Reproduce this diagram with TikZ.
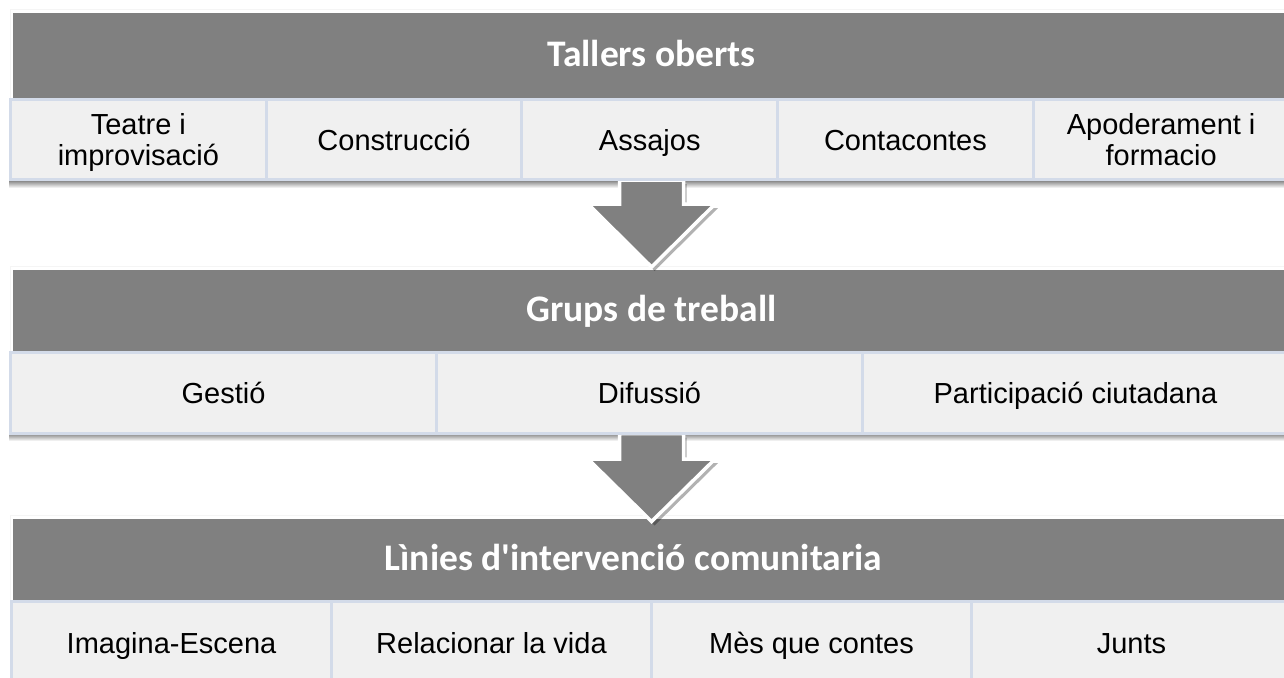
\documentclass[tikz,border=0pt]{standalone}
\usepackage{fontspec}
\setmainfont{Liberation Sans}
\newfontfamily\hdrfont{Carlito}
\usetikzlibrary{calc,shadows}
\definecolor{hdrgray}{HTML}{808080}
\definecolor{cellfill}{HTML}{F0F0F0}
\definecolor{cellline}{HTML}{D3DBE9}
\tikzset{
 hdr/.style={rectangle, fill=hdrgray, anchor=north west, inner sep=0pt, text=white,
   minimum width=1277.3pt, text height=24pt, text depth=3pt,
   font=\hdrfont\bfseries\fontsize{37.5}{44}\selectfont},
 hdrframe/.style={draw=black!4, line width=1pt},
 cell/.style={rectangle, fill=cellfill, draw=cellline, line width=3pt, anchor=north west,
   inner sep=0pt, align=center, text height=21pt, text depth=0pt,
   font=\fontsize{29}{31}\selectfont},
 celltwo/.style={cell, text height=52pt, text depth=1pt},
 bigarrow/.style={fill=hdrgray, draw=white, line width=3.5pt, line join=miter,
   drop shadow={shadow xshift=3pt, shadow yshift=-4pt, opacity=.3, fill=black}},
 rowshadow/.style={top color=black!45, bottom color=white, draw=none}
}
\begin{document}
\begin{tikzpicture}[x=1pt,y=-1pt]
\useasboundingbox (0,0) rectangle (1284,677);
\clip (0,0) rectangle (1284,677);
\fill[white] (0,0) rectangle (1284,677);

% faint frames above headers
\draw[hdrframe] (10,10) rectangle (1295,180);
\draw[hdrframe] (10,266) rectangle (1295,434);
\draw[hdrframe] (10,515) rectangle (1295,690);

% headers
\node[hdr, minimum height=85pt] (h1) at (12.7,13) {Tallers oberts};
\node[hdr, minimum height=81pt] (h2) at (12.7,270) {Grups de treball};
\node[hdr, minimum height=81pt] (h3) at (12.7,519) {\hspace*{-36pt}Lìnies d'intervenció comunitaria};

% row shadows
\shade[rowshadow] (9,181) rectangle (1290,188);
\shade[rowshadow] (9,434) rectangle (1290,441);

% row 1 cells (anchors for arrow)
\node[celltwo, minimum width=255.7pt, minimum height=80pt] (c11) at (9,98) {Teatre i\\improvisació};
\node[cell, minimum width=255.7pt, minimum height=80pt] (c12) at (264.7,98) {Construcció};
\node[cell, minimum width=255.7pt, minimum height=80pt] (c13) at (520.4,98) {Assajos};
\node[cell, minimum width=255.7pt, minimum height=80pt] (c14) at (776.1,98) {Contacontes};
\node[celltwo, minimum width=255.7pt, minimum height=80pt] (c15) at (1031.8,98) {Apoderament i\\formacio};

% arrow 1
\path[bigarrow] let \p1=(c13.south), \p2=(h2.north) in
  (\x2-32pt,\y1+1pt) -- (\x2+32pt,\y1+1pt) -- (\x2+32pt,\y2+66pt) -- (\x2+63.5pt,\y2+66pt)
  -- (\x2,\y2+3pt) -- (\x2-63.5pt,\y2+66pt) -- (\x2-32pt,\y2+66pt) -- cycle;

% row 1 cells again, over the arrow shaft
\node[cell, minimum width=255.7pt, minimum height=80pt] at (264.7,98) {Construcció};
\node[cell, minimum width=255.7pt, minimum height=80pt] at (520.4,98) {Assajos};
\node[cell, minimum width=255.7pt, minimum height=80pt] at (776.1,98) {Contacontes};

% row 2 cells
\node[cell, minimum width=426pt, minimum height=81pt] (c21) at (9,350.7) {Gestió};
\node[cell, minimum width=426pt, minimum height=81pt] (c22) at (435,350.7) {Difussió};
\node[cell, minimum width=426pt, minimum height=81pt] (c23) at (861,350.7) {Participació ciutadana};

% arrow 2
\path[bigarrow] let \p1=(c22.south), \p2=(h3.north) in
  (\x2-32pt,\y1+1pt) -- (\x2+32pt,\y1+1pt) -- (\x2+32pt,\y2+60pt) -- (\x2+63.5pt,\y2+60pt)
  -- (\x2,\y2-2.5pt) -- (\x2-63.5pt,\y2+60pt) -- (\x2-32pt,\y2+60pt) -- cycle;

% row 2 cells again, over the arrow shaft
\node[cell, minimum width=426pt, minimum height=81pt] at (435,350.7) {Difussió};
\node[cell, minimum width=426pt, minimum height=81pt] at (9,350.7) {Gestió};

% row 3 cells
\node[cell, minimum width=320pt, minimum height=82pt] (c31) at (10,600) {Imagina-Escena};
\node[cell, minimum width=320pt, minimum height=82pt] (c32) at (330,600) {Relacionar la vida};
\node[cell, minimum width=320pt, minimum height=82pt] (c33) at (650,600) {Mès que contes};
\node[cell, minimum width=320pt, minimum height=82pt] (c34) at (970,600) {Junts};
\end{tikzpicture}
\end{document}
